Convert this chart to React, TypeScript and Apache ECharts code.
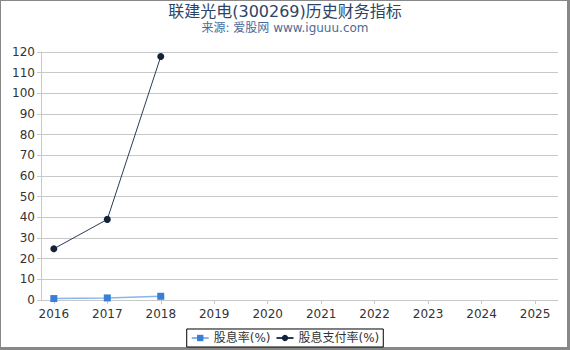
import React, { useEffect, useRef } from "react";
import * as echarts from "echarts";

const years = [2016, 2017, 2018, 2019, 2020, 2021, 2022, 2023, 2024, 2025];
const yieldYears = [2016, 2017, 2018];
const dividendYield = [0.7, 1.0, 1.8];
const payoutRatio = [24.8, 39.0, 117.8];
const yTicks = { min: 0, max: 120, interval: 10 };
const titleText = "联建光电(300269)历史财务指标";
const subtitleText = "来源: 爱股网 www.iguuu.com";

export default function App() {
  const ref = useRef<HTMLDivElement>(null);
  useEffect(() => {
    const chart = echarts.init(ref.current!, null, { renderer: "svg" });
    const font = "DejaVu Sans, Noto Sans CJK SC, sans-serif";
    chart.setOption({
      animation: false,
      backgroundColor: "#fff",
      textStyle: { fontFamily: font },
      grid: { left: 41, right: 12, top: 52, bottom: 50, containLabel: false },
      xAxis: {
        type: "value",
        min: 2015.76,
        max: 2025.43,
        axisLine: { show: true, lineStyle: { color: "#c8c8c8" } },
        axisTick: { show: true, customValues: years, length: 4, lineStyle: { color: "#c8c8c8" } },
        axisLabel: {
          customValues: years,
          color: "#333",
          fontSize: 12,
          margin: 8,
          formatter: (v: number) => String(Math.round(v)),
        },
        splitLine: { show: false },
      },
      yAxis: {
        type: "value",
        min: yTicks.min,
        max: yTicks.max,
        interval: yTicks.interval,
        axisLine: { show: true, lineStyle: { color: "#c8c8c8" } },
        axisTick: { show: true, length: 4, lineStyle: { color: "#c8c8c8" } },
        axisLabel: { color: "#333", fontSize: 12, margin: 6 },
        splitLine: { show: true, lineStyle: { color: "#c8c8c8" } },
      },
      legend: {
        bottom: 3,
        left: "center",
        borderColor: "#000",
        borderWidth: 1,
        borderRadius: 0,
        padding: [3, 4],
        itemGap: 5,
        itemWidth: 17,
        itemHeight: 8,
        textStyle: { fontSize: 12, color: "#333", fontFamily: font },
        data: ["股息率(%)", "股息支付率(%)"],
      },
      series: [
        {
          name: "股息率(%)",
          type: "line",
          data: yieldYears.map((y, i) => [y, dividendYield[i]]),
          symbol: "rect",
          symbolSize: 7,
          itemStyle: { color: "#3a7fd6" },
          lineStyle: { color: "#8ab4ea", width: 1.5 },
        },
        {
          name: "股息支付率(%)",
          type: "line",
          data: yieldYears.map((y, i) => [y, payoutRatio[i]]),
          symbol: "circle",
          symbolSize: 7,
          itemStyle: { color: "#13243a" },
          lineStyle: { color: "#2a3d58", width: 1 },
        },
      ],
      graphic: [
        {
          type: "text",
          x: 285,
          y: 3,
          style: {
            text: titleText,
            fontSize: 16,
            fontFamily: font,
            fill: "#2b4566",
            align: "center",
            verticalAlign: "top",
          },
        },
        {
          type: "text",
          x: 285,
          y: 22,
          style: {
            text: subtitleText,
            fontSize: 12,
            fontFamily: font,
            fill: "#4b6b96",
            align: "center",
            verticalAlign: "top",
          },
        },
        { type: "rect", left: 0, top: 0, shape: { width: 1, height: 350 }, style: { fill: "#888" } },
        { type: "rect", left: 0, top: 0, shape: { width: 570, height: 1 }, style: { fill: "#888" } },
        { type: "rect", right: 0, top: 0, shape: { width: 3, height: 350 }, style: { fill: "#888" } },
        { type: "rect", left: 0, bottom: 0, shape: { width: 570, height: 3 }, style: { fill: "#888" } },
      ],
    });
    return () => chart.dispose();
  }, []);
  return (
    <div
      ref={ref}
      style={{ position: "fixed", left: 0, top: 0, width: 570, height: 350 }}
    />
  );
}
